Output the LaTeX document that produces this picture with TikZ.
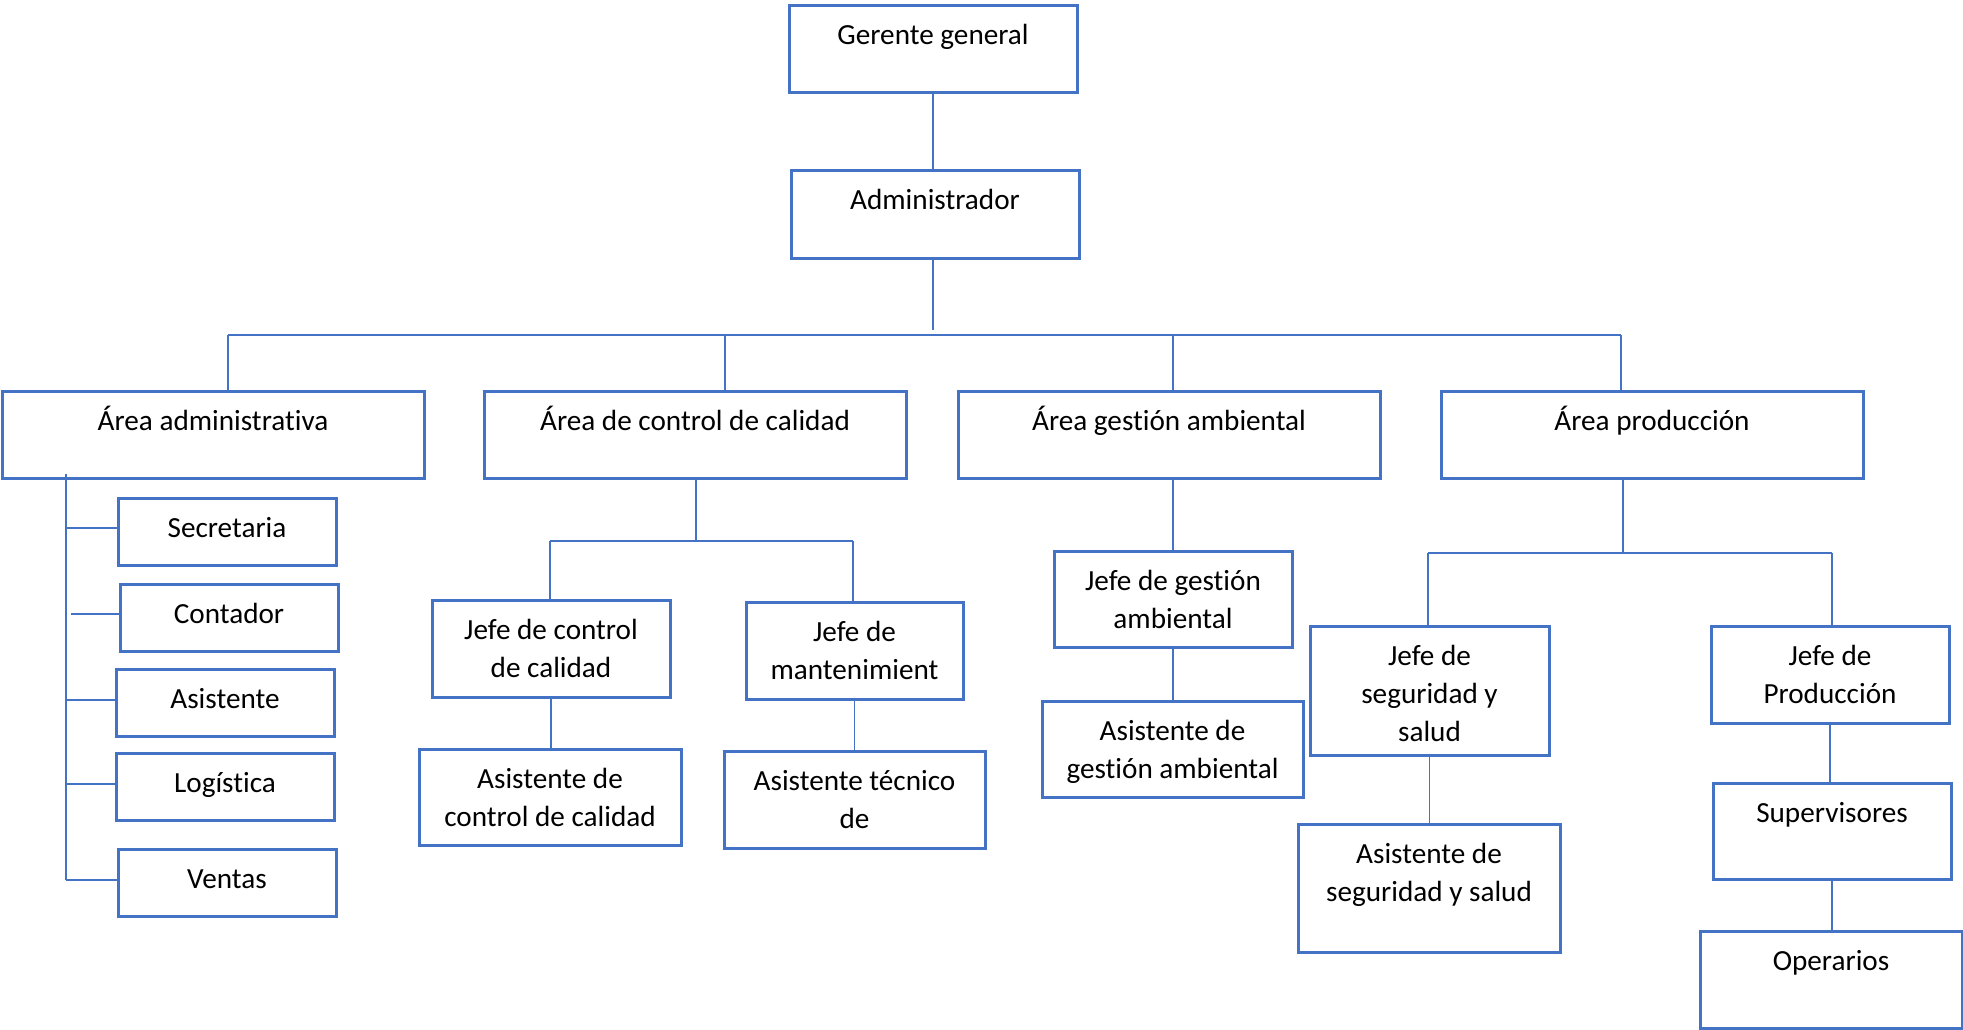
\documentclass[tikz,border=0pt]{standalone}
\usepackage{fontspec}
\setmainfont[Ligatures={NoCommon}]{Carlito}
\usetikzlibrary{calc}
\definecolor{wblue}{HTML}{4472C4}
\newdimen\pxu \pxu=0.5pt
\newcommand\tb[3]{\parbox[t][#2\pxu][t]{#1\pxu}{\centering\rule{0pt}{19.5pt}#3}}
\tikzset{
  box/.style={draw=wblue,line width=1.5pt,inner sep=0pt,outer sep=0pt,font=\fontsize{14.6}{19}\selectfont},
  conn/.style={draw=wblue,line width=0.65pt}
}
\begin{document}
\begin{tikzpicture}[x=0.5pt,y=-0.5pt]
\useasboundingbox (0,0) rectangle (1963,1029);
% top
\node[box] (gg)  at (933,48.5) {\tb{288}{87}{Gerente general}};
\node[box] (adm) at (935,214)  {\tb{288}{88}{Administrador}};
% level 2
\node[box] (aa)  at (213,434.5)  {\tb{422}{87}{Área administrativa}};
\node[box] (acc) at (695,434.5)  {\tb{422}{87}{Área de control de calidad}};
\node[box] (aga) at (1169,434.5) {\tb{422}{87}{Área gestión ambiental}};
\node[box] (ap)  at (1652,434.5) {\tb{422}{87}{Área producción}};
% administrativa
\node[box] (sec) at (227,532) {\tb{218}{67}{Secretaria}};
\node[box] (con) at (229,618) {\tb{218}{67}{Contador}};
\node[box] (asi) at (225,703) {\tb{218}{67}{Asistente}};
\node[box] (log) at (225,787) {\tb{218}{67}{Logística}};
\node[box] (ven) at (227,883) {\tb{218}{67}{Ventas}};
% control de calidad
\node[box] (jcc)  at (551,648.5)   {\tb{238}{97}{Jefe de control\\de calidad}};
\node[box] (jm)   at (854.5,650.5) {\tb{217}{97}{Jefe de\\mantenimient}};
\node[box] (acc2) at (550,797)     {\tb{262}{96}{Asistente de\\control de calidad}};
\node[box] (at)   at (854.5,799.5) {\tb{261}{97}{Asistente técnico\\de}};
% gestion ambiental
\node[box] (jga)  at (1173,599)   {\tb{238}{96}{Jefe de gestión\\ambiental}};
\node[box] (aga2) at (1172.5,749) {\tb{261}{96}{Asistente de\\gestión ambiental}};
% produccion
\node[box] (jss) at (1429.5,690.5) {\tb{239}{129}{Jefe de\\seguridad y\\salud}};
\node[box] (ass) at (1429,888)     {\tb{262}{128}{Asistente de\\seguridad y salud}};
\node[box] (jp)  at (1830,674.5)   {\tb{238}{97}{Jefe de\\Producción}};
\node[box] (sup) at (1832,831)     {\tb{238}{96}{Supervisores}};
\node[box] (op)  at (1831,979.5)   {\tb{262}{97}{Operarios}};
% connectors top
\draw[conn] (gg.south) -- (gg.south |- adm.north);
\coordinate (adEnd) at (933,330);
\draw[conn] (adEnd |- adm.south) -- (adEnd);
\coordinate (busL) at (228,335);
\coordinate (busR) at (1621,335);
\coordinate (d2) at (725,335);
\coordinate (d3) at (1173,335);
\draw[conn] (busL) -- (busR);
\draw[conn] (busL) -- (busL |- aa.north);
\draw[conn] (d2) -- (d2 |- acc.north);
\draw[conn] (d3) -- (d3 |- aga.north);
\draw[conn] (busR) -- (busR |- ap.north);
% administrativa
\coordinate (avT) at (66,474);
\coordinate (s1) at ($(sec.west)+(0,-4)$);
\coordinate (s2) at ($(con.west)+(0,-4)$);
\coordinate (s3) at ($(asi.west)+(0,-3)$);
\coordinate (s4) at ($(log.west)+(0,-3)$);
\coordinate (s5) at ($(ven.west)+(0,-3)$);
\draw[conn] (avT) -- (avT |- s5);
\draw[conn] (avT |- s1) -- (s1);
\draw[conn] ([xshift=2.5pt]avT |- s2) -- (s2);
\draw[conn] (avT |- s3) -- (s3);
\draw[conn] (avT |- s4) -- (s4);
\draw[conn] (avT |- s5) -- (s5);
% control de calidad
\coordinate (cb) at (696,541);
\coordinate (cbL) at (550,541);
\coordinate (cbR) at (853,541);
\draw[conn] (cb |- acc.south) -- (cb);
\draw[conn] (cbL) -- (cbR);
\draw[conn] (cbL) -- (cbL |- jcc.north);
\draw[conn] (cbR) -- (cbR |- jm.north);
\draw[conn] (jcc.south) -- (jcc.south |- acc2.north);
\draw[conn] (jm.south) -- (jm.south |- at.north);
% gestion ambiental
\draw[conn] (jga.north |- aga.south) -- (jga.north);
\draw[conn] (jga.south) -- (jga.south |- aga2.north);
% produccion
\coordinate (pb) at (1623,553);
\coordinate (pbL) at (1428,553);
\coordinate (pbR) at (1832,553);
\draw[conn] (pb |- ap.south) -- (pb);
\draw[conn] (pbL) -- (pbR);
\draw[conn] (pbL) -- (pbL |- jss.north);
\draw[conn] (pbR) -- (pbR |- jp.north);
\draw[conn] (jss.south) -- (jss.south |- ass.north);
\draw[conn] (jp.south) -- (jp.south |- sup.north);
\draw[conn] (sup.south) -- (sup.south |- op.north);
\end{tikzpicture}
\end{document}
